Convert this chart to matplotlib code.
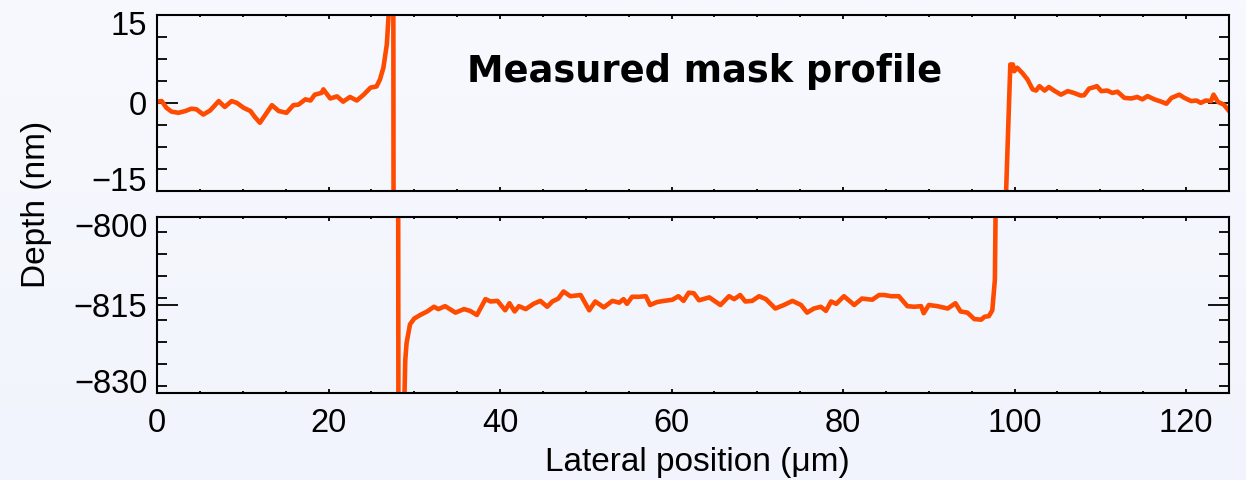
import numpy as np
import matplotlib
matplotlib.use("Agg")
import matplotlib.pyplot as plt
from matplotlib.ticker import MultipleLocator
from matplotlib.transforms import ScaledTranslation

# Surface profile across the mask (lateral position in um, depth in nm)
position_um = [
    0.0, 0.55, 1.1, 1.7, 2.5, 3.3, 4.0, 4.6, 5.4, 6.2, 7.2, 7.9, 8.7, 9.3,
    10.1, 10.9, 11.4, 12.0, 12.6, 13.4, 14.2, 15.1, 15.9, 16.5, 17.3, 17.9,
    18.4, 19.2, 19.4, 20.2, 21.0, 21.7, 22.5, 23.3, 24.1, 24.9, 25.6, 26.0,
    26.4, 26.8, 27.0, 27.1, 27.55,
    28.15, 28.8, 28.95, 29.1, 29.5, 30.0, 30.7, 31.5, 32.3, 32.8, 33.6, 34.8,
    35.8, 36.5, 37.3, 38.3, 38.9, 39.7, 40.6, 41.1, 41.7, 42.2, 43.0, 43.9,
    44.7, 45.5, 46.1, 46.8, 47.4, 48.2, 49.4, 50.4, 51.1, 52.1, 53.1, 53.9,
    54.4, 54.8, 55.4, 56.2, 57.0, 57.5, 58.3, 59.1, 60.1, 60.8, 61.4, 62.0,
    62.6, 63.2, 64.4, 65.7, 66.7, 67.3, 68.0, 68.6, 69.4, 70.2, 71.0, 72.1,
    73.1, 74.1, 75.1, 75.8, 76.6, 77.4, 78.0, 78.6, 79.2, 80.1, 81.3, 82.2,
    83.4, 84.2, 84.8, 85.6, 86.5, 87.5, 88.3, 89.1, 89.4, 90.0, 91.0, 92.2,
    93.1, 93.7, 94.5, 95.3, 96.1, 96.5, 97.0, 97.4, 97.7, 97.85,
    98.9, 99.5, 99.8, 99.95, 100.3, 100.9, 101.5, 102.1, 102.5, 102.9, 103.5,
    104.0, 104.6, 105.4, 106.2, 106.9, 107.7, 108.1, 108.7, 109.1, 109.6,
    110.1, 110.8, 111.4, 112.0, 112.8, 113.6, 114.3, 114.9, 115.5, 116.3,
    117.1, 117.7, 118.3, 119.2, 119.8, 120.6, 121.2, 121.7, 122.3, 122.9,
    123.2, 123.7, 124.4, 125.0,
]
depth_nm = [
    0.2, 0.3, -0.85, -1.5, -1.7, -1.4, -1.0, -1.1, -2.0, -1.3, 0.3, -0.7, 0.3, 0.0,
    -0.85, -1.4, -2.4, -3.4, -2.1, -0.4, -1.4, -1.7, -0.4, -0.3, 0.6, 0.4,
    1.4, 1.7, 2.3, 0.75, 1.1, 0.2, 1.0, 0.4, 1.4, 2.6, 2.8, 4.0,
    6.0, 10.0, 14.8, 30.0, 30.0,
    -834.0, -834.0, -824.4, -821.5, -818.3, -817.3, -816.7, -816.1, -815.3, -815.7, -815.2, -816.3,
    -815.7, -816.0, -816.7, -814.0, -814.4, -814.3, -815.9, -814.7, -816.1, -815.2, -815.7, -814.8,
    -814.3, -815.3, -814.4, -813.9, -812.7, -813.5, -813.3, -815.9, -814.4, -815.4, -814.3, -814.6,
    -814.0, -814.8, -813.6, -813.6, -813.5, -815.0, -814.5, -814.3, -814.1, -813.5, -814.3, -812.9,
    -813.0, -814.2, -813.7, -815.0, -813.5, -814.0, -813.3, -814.4, -814.3, -813.5, -814.0, -815.6,
    -815.0, -814.3, -815.0, -816.3, -815.6, -815.3, -816.0, -814.4, -814.8, -813.5, -815.0, -813.9,
    -814.1, -813.3, -813.3, -813.5, -813.5, -815.2, -815.3, -815.2, -816.4, -815.0, -815.2, -815.6,
    -814.7, -816.1, -816.3, -817.4, -817.5, -817.0, -816.9, -815.9, -810.7, -790.0,
    -20.0, 6.55, 6.55, 5.4, 6.0, 5.1, 4.0, 2.3, 2.1, 2.85, 2.1,
    2.7, 2.1, 1.4, 2.0, 1.7, 1.25, 1.3, 2.45, 2.6, 2.85,
    2.0, 2.1, 1.7, 1.9, 0.85, 0.75, 1.0, 0.6, 1.15, 0.6,
    0.2, -0.15, 0.85, 1.4, 0.85, 0.3, 0.4, 0.0, 0.4, 0.3,
    1.4, 0.17, -0.3, -1.4,
]

# Broken axis ranges and tick values
x_range = (0, 125)
x_ticks = [0, 20, 40, 60, 80, 100, 120]
upper_range = (-15, 15)
upper_ticks = [-15, 0, 15]
lower_range = (-830, -800)
lower_ticks = [-830, -815, -800]

title_text = "Measured mask profile"
x_label = "Lateral position (\u03bcm)"
y_label = "Depth (nm)"

line_color = "#ff4b00"
font = ["Liberation Sans", "DejaVu Sans"]
plt.rcParams["font.family"] = font

W, H = 1246, 480
fig = plt.figure(figsize=(W / 100, H / 100), dpi=100)

# soft vertical gradient behind the plot
bg = fig.add_axes([0, 0, 1, 1], zorder=-10)
top_c = np.array([248, 249, 254]) / 255.0
bot_c = np.array([241, 244, 252]) / 255.0
grad = np.linspace(0, 1, 256)[:, None, None]
bg.imshow(top_c * (1 - grad) + bot_c * grad, aspect="auto", extent=[0, 1, 0, 1])
bg.set_axis_off()


def frac(px_left, px_top, px_right, px_bottom):
    return [px_left / W, 1 - px_bottom / H, (px_right - px_left) / W, (px_bottom - px_top) / H]


ax_top = fig.add_axes(frac(157, 15, 1229, 190.7))
ax_bot = fig.add_axes(frac(157, 217, 1229, 393))

for ax, yr, yt in ((ax_top, upper_range, upper_ticks), (ax_bot, lower_range, lower_ticks)):
    ax.set_facecolor("none")
    ax.plot(position_um, depth_nm, color=line_color, lw=3.3, solid_joinstyle="round",
            solid_capstyle="round")
    ax.set_xlim(*x_range)
    ax.set_ylim(*yr)
    ax.set_xticks(x_ticks)
    ax.set_yticks(yt, [f"{v}".replace("-", "\u2212") for v in yt])
    ax.xaxis.set_minor_locator(MultipleLocator(5))
    ax.yaxis.set_minor_locator(MultipleLocator(3.75))
    for s in ax.spines.values():
        s.set_linewidth(1.5)
        s.set_color("black")
    ax.tick_params(axis="both", which="both", direction="in", top=True, bottom=True,
                   left=True, right=True, width=1.3, colors="black", labelsize=23.5)
    ax.tick_params(axis="x", which="major", length=3, pad=11)
    ax.tick_params(axis="x", which="minor", length=1.5)
    ax.tick_params(axis="y", which="major", length=15, pad=7)
    ax.tick_params(axis="y", which="minor", length=7)
    # keep the end labels inside the panel height
    ticks = ax.yaxis.get_major_ticks()
    ticks[0].label1.set_verticalalignment("baseline")
    top_lab = ticks[-1].label1
    top_lab.set_verticalalignment("top")
    top_lab.set_transform(top_lab.get_transform()
                          + ScaledTranslation(0, 4 / 100, fig.dpi_scale_trans))

ax_top.tick_params(axis="x", labelbottom=False)

fig.text(705 / W, 1 - 82.5 / H, title_text, ha="center", va="baseline",
         fontsize=26.5, fontweight="bold", family="DejaVu Sans")
fig.text(697 / W, 1 - 471.5 / H, x_label, ha="center", va="baseline", fontsize=24)
fig.text(37 / W, 1 - 204 / H, y_label, ha="center", va="center", rotation=90, fontsize=24)

fig.savefig("out.png", dpi=100)
